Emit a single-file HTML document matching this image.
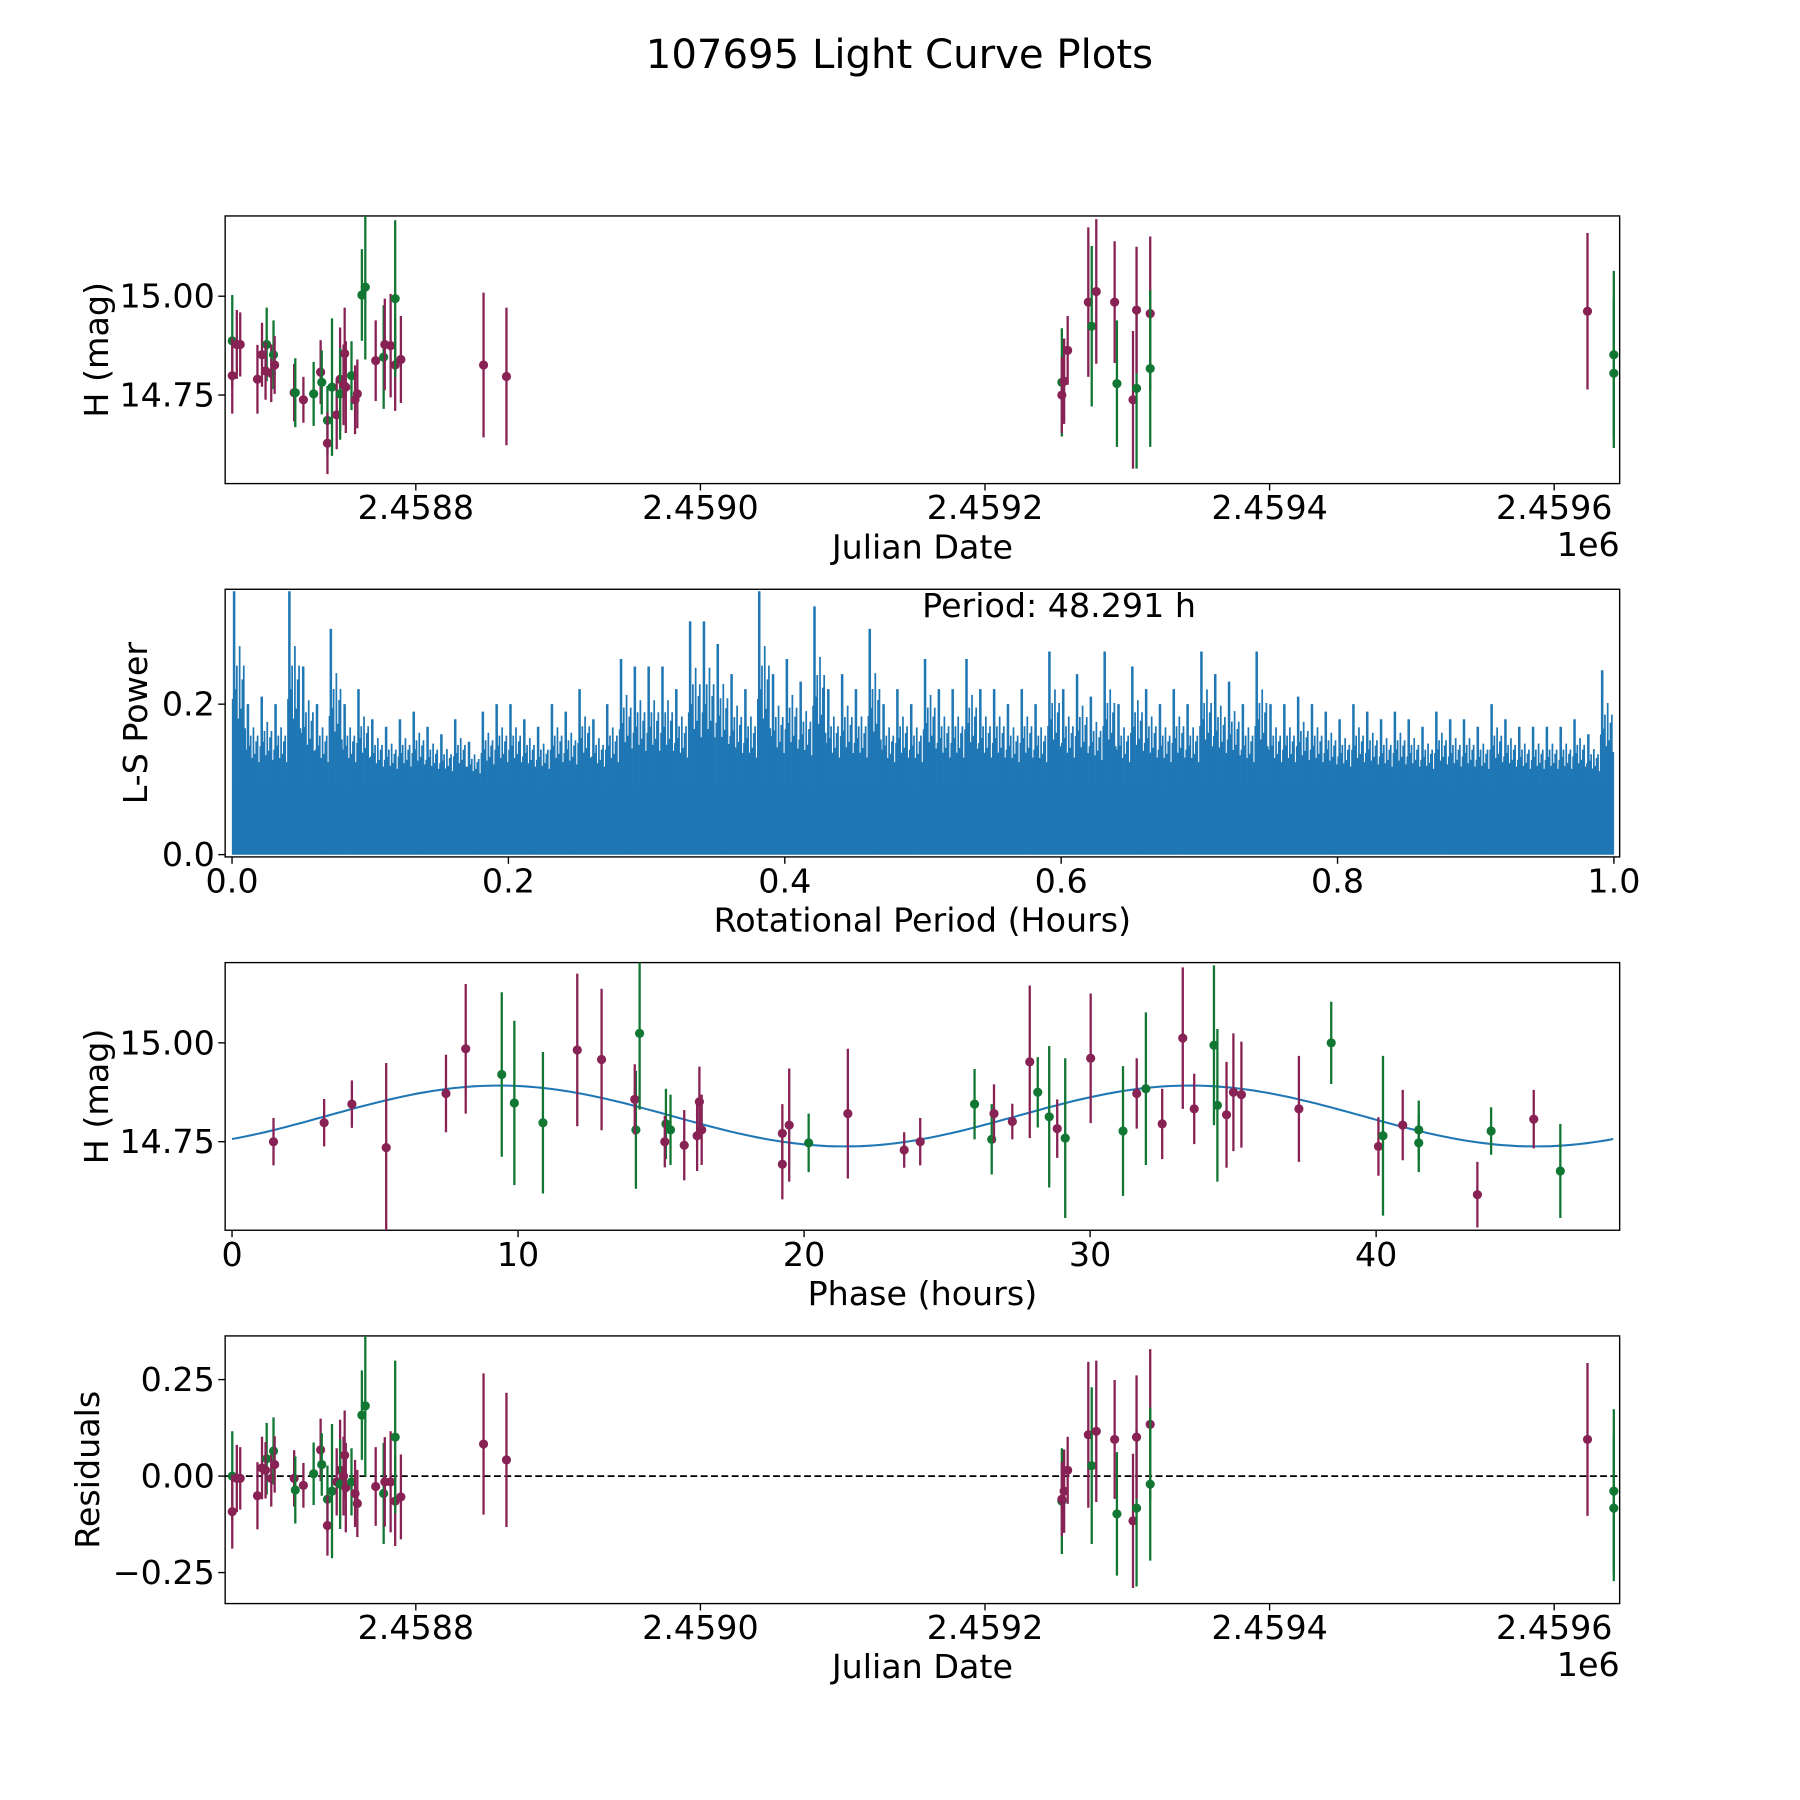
<!DOCTYPE html>
<html><head><meta charset="utf-8"><style>
html,body{margin:0;padding:0;background:#fff}
svg{display:block}
text{font-family:"DejaVu Sans","Liberation Sans",sans-serif;fill:#000}
</style></head><body>
<svg id="fig" width="1800" height="1800" viewBox="0 0 1567 1567" xmlns="http://www.w3.org/2000/svg">
<text x="783" y="59" font-size="35" text-anchor="middle">107695 Light Curve Plots</text>
<g id="root"></g>
</svg>
<script>
// Panel 1 / 4 data: JD offset from 2458000, magnitude, error, colour (m = maroon, g = green)
const jdVals=[671.0,671.0,674.2,676.6,688.7,691.9,695.2,694.4,698.4,700.0,700.8,714.5,715.3,721.0,728.2,733.1,733.9,737.9,737.9,741.1,744.4,746.8,746.8,749.2,750.0,750.8,754.8,757.3,758.9,762.1,764.5,771.8,777.4,778.2,782.3,785.5,785.5,789.5,847.6,863.7,1254.0,1254.0,1255.6,1258.1,1272.6,1275.0,1278.2,1291.1,1292.7,1304.0,1306.5,1306.5,1316.1,1316.1,1623.4,1641.9,1641.9];
const magVals=[14.887,14.799,14.878,14.878,14.790,14.852,14.878,14.811,14.805,14.852,14.826,14.756,14.756,14.738,14.753,14.808,14.782,14.686,14.628,14.770,14.700,14.790,14.753,14.776,14.855,14.770,14.799,14.738,14.753,15.003,15.023,14.837,14.846,14.878,14.875,14.826,14.994,14.840,14.826,14.797,14.782,14.750,14.785,14.863,14.985,14.924,15.012,14.985,14.779,14.738,14.767,14.965,14.956,14.817,14.962,14.852,14.805];
const errVals=[.116,.096,.087,.081,.087,.081,.093,.073,.073,.087,.073,.073,.087,.058,.081,.081,.081,.087,.078,.174,.087,.131,.116,.102,.116,.116,.087,.087,.087,.116,.183,.102,.131,.116,.131,.116,.198,.110,.183,.174,.137,.096,.108,.087,.189,.203,.183,.154,.160,.174,.203,.160,.195,.198,.198,.212,.189];
const colVals=['g','m','m','m','m','m','g','m','m','g','m','m','g','m','g','m','g','g','m','g','m','m','g','m','m','m','g','m','m','g','g','m','g','m','m','m','g','m','m','m','g','m','m','m','m','g','m','m','g','m','g','m','m','g','m','g','g'];
const resVals=[0,-.092,-.006,-.006,-.051,.021,.045,.015,-.006,.065,.030,-.006,-.036,-.024,.006,.068,.030,-.060,-.128,-.039,-.015,.015,-.021,0,.054,-.030,-.015,-.045,-.071,.158,.182,-.027,-.045,-.015,-.015,-.065,.101,-.054,.083,.042,-.065,-.060,-.039,.015,.107,.027,.116,.095,-.098,-.116,-.083,.101,.134,-.021,.095,-.039,-.083];
// Phase-folded data
const phaseVals=[1.45,3.22,4.19,5.39,7.48,8.17,9.43,9.87,10.87,12.07,12.92,14.12,14.08,14.25,15.17,15.13,15.33,15.81,16.26,16.34,16.42,19.24,19.24,19.48,20.16,21.53,23.50,24.06,25.96,26.56,26.64,27.28,27.89,28.17,28.57,28.85,29.13,30.02,31.15,31.63,31.95,32.52,33.24,33.64,34.33,34.45,34.77,35.01,35.29,37.30,38.43,40.08,40.24,40.93,41.49,41.49,43.54,44.02,45.51,46.44];
const phaseMag=[14.750,14.798,14.845,14.735,14.872,14.985,14.920,14.848,14.798,14.982,14.958,14.780,14.857,15.024,14.795,14.750,14.780,14.741,14.765,14.851,14.780,14.771,14.693,14.792,14.747,14.821,14.729,14.750,14.845,14.756,14.821,14.801,14.952,14.875,14.813,14.783,14.759,14.961,14.777,14.872,14.884,14.795,15.012,14.833,14.994,14.842,14.818,14.875,14.869,14.833,15.000,14.738,14.765,14.792,14.780,14.747,14.616,14.777,14.807,14.676];
const phaseErr=[.060,.060,.060,.214,.098,.164,.208,.208,.179,.193,.179,.149,.089,.193,.089,.065,.089,.089,.089,.089,.089,.074,.089,.143,.074,.164,.045,.060,.089,.089,.074,.045,.193,.089,.179,.074,.202,.164,.164,.089,.193,.089,.179,.089,.202,.193,.134,.149,.134,.134,.104,.074,.202,.089,.074,.074,.083,.060,.074,.119];
const phaseCol=['m','m','m','m','m','m','g','g','g','m','m','g','m','g','g','m','g','m','m','m','m','m','m','m','g','m','m','m','g','g','m','m','m','g','g','m','g','m','g','m','g','m','m','m','g','g','m','m','m','m','g','m','g','m','g','g','m','g','m','g'];
// Model fit: mean, amplitude, period, phase offset, phase span
const modelParams=[14.815,0.077,24.15,3.3,48.29];
// Periodogram: bin maxima (width 0.01) and dense core level
const lsBinMax=[0.35,0.2,0.21,0.2,0.35,0.25,0.2,0.3,0.2,0.22,0.18,0.17,0.18,0.19,0.17,0.16,0.18,0.15,0.19,0.2,0.2,0.18,0.17,0.2,0.19,0.22,0.18,0.2,0.26,0.25,0.25,0.25,0.22,0.31,0.31,0.28,0.24,0.22,0.35,0.24,0.26,0.23,0.33,0.22,0.24,0.22,0.3,0.2,0.22,0.2,0.26,0.22,0.22,0.26,0.22,0.22,0.2,0.22,0.2,0.27,0.22,0.24,0.21,0.27,0.2,0.25,0.22,0.2,0.22,0.2,0.27,0.24,0.23,0.2,0.27,0.2,0.2,0.21,0.2,0.19,0.18,0.2,0.19,0.18,0.19,0.18,0.17,0.19,0.18,0.18,0.17,0.2,0.18,0.17,0.17,0.17,0.17,0.18,0.16,0.245];
const lsCore=[0.09];
const jdTicks=[800,1000,1200,1400,1600];
const jdTickLabels=['2.4588','2.4590','2.4592','2.4594','2.4596'];
const magTicks=[14.75,15.0];const magTickLabels=['14.75','15.00'];
const lsTicks=[0,0.2];const lsTickLabels=['0.0','0.2'];
const perTicks=[0,0.2,0.4,0.6,0.8,1.0];const perTickLabels=['0.0','0.2','0.4','0.6','0.8','1.0'];
const phTicks=[0,10,20,30,40];const phTickLabels=['0','10','20','30','40'];
const resTicks=[-0.25,0,0.25];const resTickLabels=['\u22120.25','0.00','0.25'];

const NS='http://www.w3.org/2000/svg';
const root=document.getElementById('root');
const COL={m:'#882255',g:'#117733'};
const L=196,R=1410;
function mk(tag,attrs,parent){const e=document.createElementNS(NS,tag);for(const k in attrs)e.setAttribute(k,attrs[k]);(parent||root).appendChild(e);return e;}
function lin(d0,d1,p0,p1){return v=>p0+(v-d0)/(d1-d0)*(p1-p0);}

function axes(top,bot,xs,ys,xt,xtl,yt,ytl,xlabel,ylabel,ylx,name){
  const g=mk('g',{});
  
  
  const fr=mk('rect',{x:L,y:top,width:R-L,height:bot-top,fill:'none',stroke:'#000','stroke-width':1.2},g);
  
  
  xt.forEach((v,i)=>{const x=xs(v);mk('line',{x1:x,x2:x,y1:bot,y2:bot+6,stroke:'#000','stroke-width':1.2},g);
    const t=mk('text',{x:x,y:bot+31,'font-size':29,'text-anchor':'middle'},g);t.textContent=xtl[i];
    
    });
  yt.forEach((v,i)=>{const y=ys(v);mk('line',{x1:L-6,x2:L,y1:y,y2:y,stroke:'#000','stroke-width':1.2},g);
    const t=mk('text',{x:L-9,y:y+10,'font-size':29,'text-anchor':'end'},g);t.textContent=ytl[i];
    
    });
  const xl=mk('text',{x:803,y:bot+65,'font-size':29,'text-anchor':'middle'},g);xl.textContent=xlabel;
  
  
  const yl=mk('text',{x:ylx,y:(top+bot)/2,'font-size':29,'text-anchor':'middle',transform:`rotate(-90 ${ylx} ${(top+bot)/2})`},g);yl.textContent=ylabel;
  
  
  return g;
}
function errPts(xsArr,ysArr,es,cs,xs,ys,top,bot,name){
  const g=mk('g',{});
  
  
  const cid='c'+name;const cp=mk('clipPath',{id:cid},g);mk('rect',{x:L,y:top,width:R-L,height:bot-top},cp);
  g.setAttribute('clip-path',`url(#${cid})`);
  xsArr.forEach((v,i)=>{const x=xs(v),c=COL[cs[i]];
    mk('line',{x1:x,x2:x,y1:ys(ysArr[i]-es[i]),y2:ys(ysArr[i]+es[i]),stroke:c,'stroke-width':2},g);
    const p=mk('circle',{cx:x,cy:ys(ysArr[i]),r:4,fill:c},g);
    
    });
}
// Panel 1
const jx=lin(666,1646,L,R);
const my1=lin(14.526,15.203,421,188);
axes(188,421,jx,my1,jdTicks,jdTickLabels,magTicks,magTickLabels,'Julian Date','H (mag)',94,'light-curve-panel');
errPts(jdVals,magVals,errVals,colVals,jx,my1,188,421,'light-curve-points');
let t=mk('text',{x:1410,y:484,'font-size':29,'text-anchor':'end'});t.textContent='1e6';



// Panel 2 periodogram
const px=lin(0,1,202,1405);
const py=lin(0,0.3527,744,513);
axes(513,746,px,py,perTicks,perTickLabels,lsTicks,lsTickLabels,'Rotational Period (Hours)','L-S Power',128,'periodogram-panel');
const pg=mk('g',{});


const cr=mk('rect',{x:px(0),y:py(lsCore[0]),width:px(1)-px(0),height:py(0)-py(lsCore[0]),fill:'#1f77b4'},pg);


const spikeShape=[[0.05,0.45],[0.15,1],[0.25,0.5],[0.35,0.62],[0.45,0.35],[0.55,0.72],[0.65,0.4],[0.75,0.55],[0.85,0.62],[0.95,0.3]];
lsBinMax.forEach((v,i)=>{
  const x0=px(i*0.01),x1=px((i+1)*0.01);
  spikeShape.forEach(([f,s])=>{
    const x=x0+(x1-x0)*f;const h=lsCore[0]+(v-lsCore[0])*s;
    const ln=mk('line',{x1:x,x2:x,y1:py(0),y2:py(h),stroke:'#1f77b4','stroke-width':s===1?2.2:1.5},pg);
    
    
  });
});
t=mk('text',{x:922,y:537,'font-size':29,'text-anchor':'middle'});t.textContent='Period: 48.291 h';



// Panel 3 phase
const phx=lin(0,10,202,451);
const my3=lin(14.526,15.203,1071,838);
axes(838,1071,phx,my3,phTicks,phTickLabels,magTicks,magTickLabels,'Phase (hours)','H (mag)',94,'phase-panel');
let d='';
for(let k=0;k<=200;k++){const ph=modelParams[4]*k/200;
  const m=modelParams[0]+modelParams[1]*Math.sin(2*Math.PI*(ph-modelParams[3])/modelParams[2]);
  d+=(k?'L':'M')+phx(ph).toFixed(1)+' '+my3(m).toFixed(1);}
const mp=mk('path',{d:d,fill:'none',stroke:'#1f77b4','stroke-width':1.8});


errPts(phaseVals,phaseMag,phaseErr,phaseCol,phx,my3,838,1071,'phase-points');

// Panel 4 residuals
const ry=lin(-0.3303,0.3631,1396,1163);
axes(1163,1396,jx,ry,jdTicks,jdTickLabels,resTicks,resTickLabels,'Julian Date','Residuals',86,'residuals-panel');
const zl=mk('line',{x1:L,x2:R,y1:ry(0),y2:ry(0),stroke:'#000','stroke-width':1.5,'stroke-dasharray':'6 3'});


errPts(jdVals,resVals,errVals,colVals,jx,ry,1163,1396,'residual-points');
t=mk('text',{x:1410,y:1459,'font-size':29,'text-anchor':'end'});t.textContent='1e6';


</script>
</body></html>
